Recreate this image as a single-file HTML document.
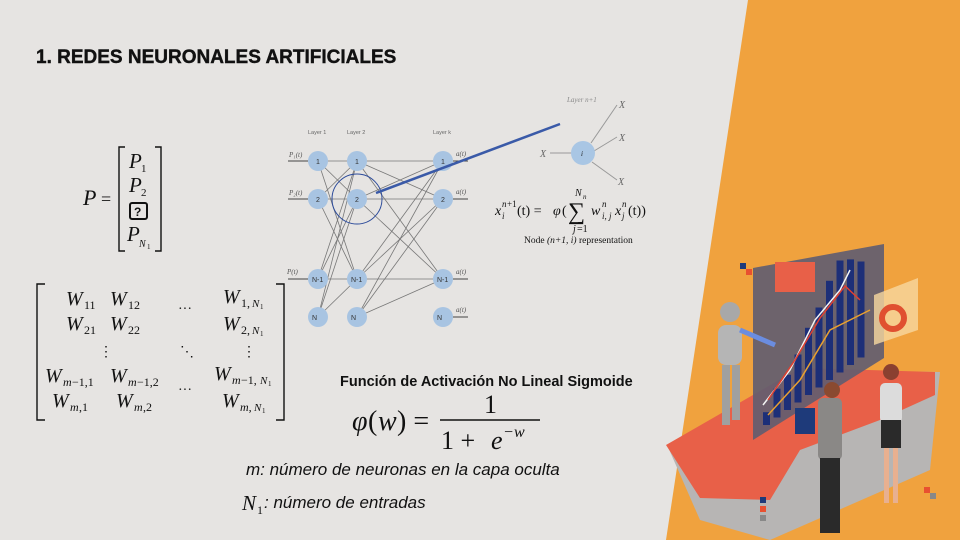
<!DOCTYPE html>
<html><head><meta charset="utf-8">
<style>
html,body{margin:0;padding:0;width:960px;height:540px;overflow:hidden;background:#e6e4e2;}
svg{display:block;}
.m{font-family:"Liberation Serif",serif;font-style:italic;fill:#111;}
.r{font-family:"Liberation Serif",serif;fill:#111;}
</style></head>
<body>
<svg id="slide" width="960" height="540" viewBox="0 0 960 540" xmlns="http://www.w3.org/2000/svg">
<rect x="0" y="0" width="960" height="540" fill="#e6e4e2"/>
<polygon points="748,0 960,0 960,540 666,540" fill="#f0a23e"/>

<text x="36" y="63" font-family="Liberation Sans, sans-serif" font-weight="bold" font-size="19" fill="#111" stroke="#111" stroke-width="0.4">1. REDES NEURONALES ARTIFICIALES</text>

<g>
<text class="m" x="83" y="205" font-size="22">P</text><text class="r" x="101" y="205" font-size="18">=</text>
<path d="M125,147 h-6 v104 h6 M155,147 h6 v104 h-6" stroke="#111" stroke-width="1.4" fill="none"/>
<text class="m" x="129" y="168" font-size="21">P</text><text class="r" x="141" y="172" font-size="11">1</text>
<text class="m" x="129" y="192" font-size="21">P</text><text class="r" x="141" y="196" font-size="11">2</text>
<rect x="130" y="203" width="17" height="16" fill="none" stroke="#111" stroke-width="2" rx="2"/>
<text x="134" y="216" font-family="Liberation Sans,sans-serif" font-weight="bold" font-size="12" fill="#111">?</text>
<text class="m" x="127" y="241" font-size="21">P</text><text class="m" x="139" y="247" font-size="10">N</text><text class="r" x="147" y="249" font-size="7">1</text>
</g>

<g>
<path d="M45,284 h-8 v136 h8 M276,284 h8 v136 h-8" stroke="#111" stroke-width="1.4" fill="none"/>
<text class="m" x="66" y="305" font-size="20">W</text><text class="r" x="84" y="309" font-size="12">11</text>
<text class="m" x="110" y="305" font-size="20">W</text><text class="r" x="128" y="309" font-size="12">12</text>
<text class="r" x="178" y="313" font-size="14">···</text>
<text class="m" x="223" y="303" font-size="20">W</text><text class="r" x="241" y="307" font-size="12">1,</text><text class="m" x="252" y="307" font-size="11">N</text><text class="r" x="260" y="309" font-size="7">1</text>
<text class="m" x="66" y="330" font-size="20">W</text><text class="r" x="84" y="334" font-size="12">21</text>
<text class="m" x="110" y="330" font-size="20">W</text><text class="r" x="128" y="334" font-size="12">22</text>
<text class="m" x="223" y="330" font-size="20">W</text><text class="r" x="241" y="334" font-size="12">2,</text><text class="m" x="252" y="334" font-size="11">N</text><text class="r" x="260" y="336" font-size="7">1</text>
<text class="r" x="99" y="356" font-size="14">⋮</text><text class="r" x="180" y="356" font-size="14">⋱</text><text class="r" x="242" y="356" font-size="14">⋮</text>
<text class="m" x="45" y="382" font-size="20">W</text><text class="m" x="63" y="386" font-size="12">m</text><text class="r" x="72" y="386" font-size="12">−1,1</text>
<text class="m" x="110" y="382" font-size="20">W</text><text class="m" x="128" y="386" font-size="12">m</text><text class="r" x="137" y="386" font-size="12">−1,2</text>
<text class="m" x="214" y="380" font-size="20">W</text><text class="m" x="232" y="384" font-size="12">m</text><text class="r" x="241" y="384" font-size="12">−1,</text><text class="m" x="260" y="384" font-size="11">N</text><text class="r" x="268" y="386" font-size="7">1</text>
<text class="m" x="52" y="407" font-size="20">W</text><text class="m" x="70" y="411" font-size="12">m</text><text class="r" x="79" y="411" font-size="12">,1</text>
<text class="m" x="116" y="407" font-size="20">W</text><text class="m" x="134" y="411" font-size="12">m</text><text class="r" x="143" y="411" font-size="12">,2</text>
<text class="r" x="178" y="394" font-size="14">···</text>
<text class="m" x="222" y="407" font-size="20">W</text><text class="m" x="240" y="411" font-size="12">m,</text><text class="m" x="254" y="411" font-size="11">N</text><text class="r" x="262" y="413" font-size="7">1</text>
</g>

<g id="net"></g>

<g>
<text class="m" x="567" y="102" font-size="7" style="fill:#888">Layer n+1</text>
<line x1="591" y1="143" x2="617" y2="105" stroke="#999"/><line x1="594" y1="151" x2="617" y2="137" stroke="#999"/><line x1="592" y1="162" x2="617" y2="180" stroke="#999"/><line x1="572" y1="153" x2="550" y2="153" stroke="#999"/>
<circle cx="583" cy="153" r="12" fill="#a9c6e4"/><text class="m" x="581" y="156" font-size="7">i</text>
<text class="m" x="619" y="108" font-size="10" style="fill:#666">X</text><text class="m" x="619" y="141" font-size="10" style="fill:#666">X</text><text class="m" x="618" y="185" font-size="10" style="fill:#666">X</text><text class="m" x="540" y="157" font-size="10" style="fill:#666">X</text>
<text class="m" x="495" y="215" font-size="14">x</text><text class="m" x="502" y="219" font-size="9">i</text><text class="m" x="502" y="207" font-size="9">n</text><text class="r" x="507" y="207" font-size="9">+1</text><text class="r" x="517" y="215" font-size="14">(t) = </text><text class="m" x="553" y="215" font-size="14">φ</text><text class="r" x="562" y="215" font-size="14">(</text>
<text class="r" x="568" y="219" font-size="24">∑</text><text class="m" x="575" y="196" font-size="10">N</text><text class="m" x="583" y="199" font-size="7">n</text><text class="m" x="573" y="232" font-size="10">j</text><text class="r" x="577" y="232" font-size="10">=1</text>
<text class="m" x="591" y="215" font-size="14">w</text><text class="m" x="602" y="219" font-size="9">i, j</text><text class="m" x="602" y="207" font-size="9">n</text><text class="m" x="615" y="215" font-size="14">x</text><text class="m" x="622" y="219" font-size="9">j</text><text class="m" x="622" y="207" font-size="9">n</text><text class="r" x="628" y="215" font-size="14">(t))</text>
<text class="r" x="524" y="243" font-size="9.5">Node <tspan font-style="italic">(n+1, i)</tspan> representation</text>
</g>

<text x="340" y="386" font-family="Liberation Sans,sans-serif" font-weight="bold" font-size="14.5" fill="#111">Función de Activación No Lineal Sigmoide</text>
<g>
<text class="m" x="352" y="430" font-size="28">φ</text><text class="r" x="368" y="430" font-size="28">(</text><text class="m" x="378" y="430" font-size="28">w</text><text class="r" x="397" y="430" font-size="28">) =</text>
<text class="r" x="484" y="413" font-size="26">1</text>
<line x1="440" y1="420" x2="540" y2="420" stroke="#111" stroke-width="1.5"/>
<text class="r" x="441" y="449" font-size="26">1 + </text><text class="m" x="491" y="449" font-size="26">e</text><text class="r" x="504" y="437" font-size="16">−</text><text class="m" x="514" y="437" font-size="16">w</text>
</g>
<text class="m" x="246" y="475" font-size="17" style="font-family:'Liberation Sans',sans-serif">m: número de neuronas en la capa oculta</text>
<g>
<text class="m" x="242" y="510" font-size="21">N</text><text class="r" x="257" y="514" font-size="12">1</text>
<text class="m" x="264" y="508" font-size="17" style="font-family:'Liberation Sans',sans-serif">: número de entradas</text>
</g>

<g id="illus">
<path d="M668,447 L800,370 L940,372 L930,470 L770,540 L700,520 Z" fill="#b7b5b4"/>
<path d="M666,445 L800,368 L935,372 L935,395 L880,420 L800,450 L770,500 L700,498 Z" fill="#e86048"/>
<path d="M753,268 L884,244 L884,358 L753,440 Z" fill="#625d70" opacity="0.92"/>
<rect x="775" y="262" width="40" height="30" fill="#e86048"/>
<polygon points="874,295 918,278 918,330 874,345" fill="#f7d8a0" opacity="0.8"/>
<circle cx="893" cy="318" r="11" fill="none" stroke="#e05030" stroke-width="6"/>
<g id="bars"></g>
<polyline points="763,405 790,370 815,320 840,290 850,270" stroke="#f3f3f3" stroke-width="1.5" fill="none"/>
<polyline points="768,400 795,360 820,318 845,286 860,300" stroke="#e04030" stroke-width="1.5" fill="none"/>
<polyline points="768,415 800,380 830,330 870,310" stroke="#e8a030" stroke-width="1.5" fill="none"/>
<g>
<circle cx="730" cy="312" r="10" fill="#a8a8a8"/><rect x="718" y="325" width="24" height="40" rx="8" fill="#b5b5b5"/><rect x="722" y="365" width="8" height="60" fill="#a0a0a0"/><rect x="732" y="365" width="8" height="55" fill="#a0a0a0"/><line x1="740" y1="330" x2="775" y2="345" stroke="#6b8de0" stroke-width="5"/>
</g>
<g>
<circle cx="832" cy="390" r="8" fill="#8a4a30"/><rect x="818" y="398" width="24" height="62" rx="5" fill="#8a8886"/><rect x="820" y="458" width="20" height="75" fill="#2a2a2a"/><rect x="795" y="408" width="20" height="26" fill="#1e3a7a"/>
</g>
<g>
<circle cx="891" cy="372" r="8" fill="#8a4030"/><rect x="880" y="383" width="22" height="40" rx="5" fill="#dcdcdc"/><rect x="881" y="420" width="20" height="28" fill="#2a2a2a"/><rect x="884" y="448" width="5" height="55" fill="#e8b090"/><rect x="893" y="448" width="5" height="55" fill="#e8b090"/>
</g>
<rect x="740" y="263" width="6" height="6" fill="#1e3a7a"/><rect x="746" y="269" width="6" height="6" fill="#e85030"/>
<rect x="924" y="487" width="6" height="6" fill="#e85030"/><rect x="930" y="493" width="6" height="6" fill="#888"/>
<rect x="760" y="497" width="6" height="6" fill="#1e3a7a"/><rect x="760" y="506" width="6" height="6" fill="#e85030"/><rect x="760" y="515" width="6" height="6" fill="#888"/>
</g>
</svg>
<script>
// Illustration bar values (heights in arbitrary units)
const barValues = [8, 18, 22, 30, 42, 50, 62, 70, 66, 60];
const ns="http://www.w3.org/2000/svg";
const bars=document.getElementById('bars');
const bx=i=>763+i*10.5;
const bh=v=>v*1.6;
barValues.forEach((v,i)=>{
  const r=document.createElementNS(ns,'rect');
  const base=425-i*7.5;
  r.setAttribute('x',bx(i));r.setAttribute('y',base-bh(v));r.setAttribute('width',7);r.setAttribute('height',bh(v));
  r.setAttribute('fill','#1d2f78');
  
  
  bars.appendChild(r);
});

// Network diagram
const layerX=[318,357,443];
const rowY=[161,199,279,317];
const layerNames=['Layer 1','Layer 2','Layer k'];
const nodeLabels=['1','2','N-1','N'];
const net=document.getElementById('net');
function el(t,a){const e=document.createElementNS(ns,t);for(const k in a)e.setAttribute(k,a[k]);net.appendChild(e);return e;}
for(let l=0;l<2;l++)for(let a=0;a<4;a++)for(let b=0;b<3;b++){
  const e=el('line',{x1:layerX[l],y1:rowY[a],x2:layerX[l+1],y2:rowY[b],stroke:'#777','stroke-width':0.8});
  
  
}
rowY.slice(0,3).forEach(y=>{const e=el('line',{x1:288,y1:y,x2:308,y2:y,stroke:'#444','stroke-width':1});
  
  });
rowY.forEach(y=>{const e=el('line',{x1:453,y1:y,x2:468,y2:y,stroke:'#444','stroke-width':1});
  
  });
layerNames.forEach((n,i)=>{const t=el('text',{x:layerX[i]-10,y:134,'font-size':5.5,'font-family':'Liberation Sans,sans-serif',fill:'#666'});t.textContent=n;
  
  });
layerX.forEach(x=>rowY.forEach((y,j)=>{
  const c=el('circle',{cx:x,cy:y,r:10,fill:'#a8c4e2'});
  
  
  const t=el('text',{x:x-(j<2?2:6),y:y+3,'font-size':7,'font-family':'Liberation Sans,sans-serif',fill:'#333'});t.textContent=nodeLabels[j];
  
  
}));
[['P₁(t)',289,157],['P₂(t)',289,195],['P(t)',287,274]].forEach(p=>{const t=el('text',{x:p[1],y:p[2],'font-size':7,'font-family':'Liberation Serif,serif','font-style':'italic',fill:'#555'});t.textContent=p[0];
  
  });
['a(t)','a(t)','a(t)','a(t)'].forEach((s,i)=>{const t=el('text',{x:456,y:rowY[i]-5,'font-size':7,'font-family':'Liberation Serif,serif','font-style':'italic',fill:'#555'});t.textContent=s;
  
  });
const hc=el('circle',{cx:357,cy:199,r:25,fill:'none',stroke:'#2b4a9a','stroke-width':1});


const bl=el('line',{x1:376,y1:193,x2:560,y2:124,stroke:'#3a5aa8','stroke-width':2.5});


</script>
</body></html>
